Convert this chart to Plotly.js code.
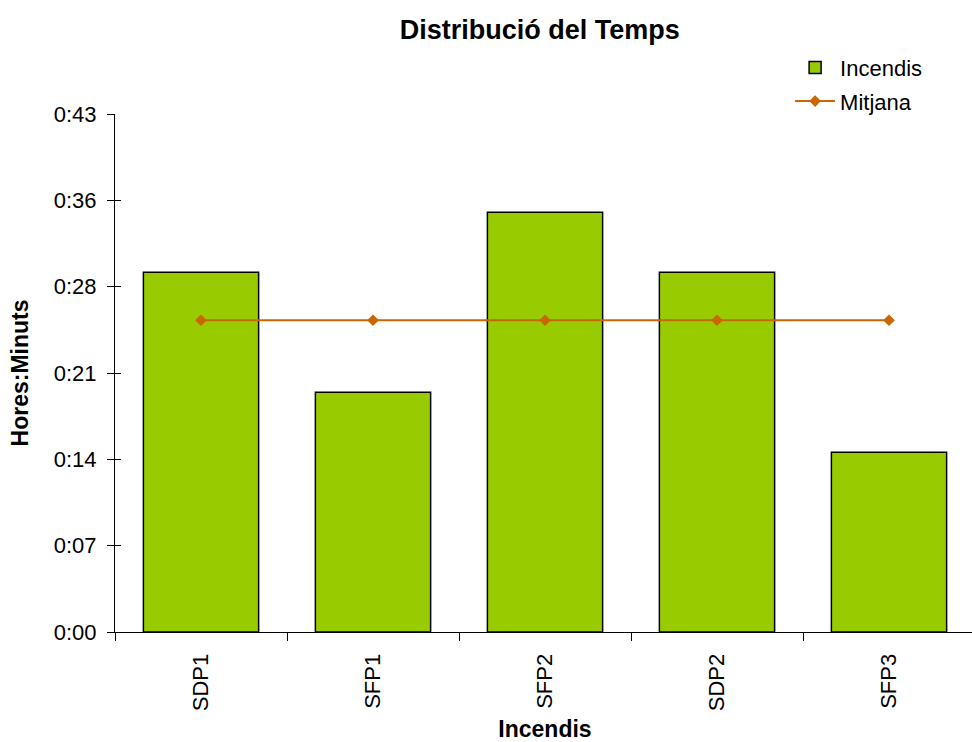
<!DOCTYPE html>
<html><head><meta charset="utf-8">
<script src="https://cdn.plot.ly/plotly-3.0.1.min.js"></script>
<style>html,body{margin:0;padding:0;overflow:hidden;background:#fff}#c{width:980px;height:742px}</style>
</head><body><div id="c"></div>
<script>
const categories = ["SDP1", "SFP1", "SFP2", "SDP2", "SFP3"];
const incendisMinutes = [30, 20, 35, 30, 15];
const mitjanaMinutes = [26, 26, 26, 26, 26];
const yTickValues = [0, 7.2, 14.4, 21.6, 28.8, 36, 43.2];
const yTickLabels = ["0:00", "0:07", "0:14", "0:21", "0:28", "0:36", "0:43"];

const font = "Liberation Sans, Arial, sans-serif";
const traces = [
  {type: "bar", name: "Incendis", x: categories, y: incendisMinutes, legendgroup: "a",
   marker: {color: "#99CC00", line: {color: "#000000", width: 1.5}},
   hoverinfo: "skip"},
  {type: "scatter", mode: "lines+markers", name: "Mitjana", x: categories, y: mitjanaMinutes,
   legendgroup: "b",
   line: {color: "#CC6600", width: 2}, marker: {symbol: "diamond", size: 9, color: "#CC6600"},
   hoverinfo: "skip"}
];
const layout = {
  width: 980, height: 742,
  margin: {l: 115, r: 5, t: 114, b: 110},
  paper_bgcolor: "#fff", plot_bgcolor: "#fff",
  font: {family: font, size: 22, color: "#000"},
  title: {text: "<b>Distribució del Temps</b>", font: {family: font, size: 27, color: "#000"},
          x: 0.494, xanchor: "center", y: 0.96, yanchor: "middle", xref: "paper"},
  bargap: 0.33,
  showlegend: true,
  legend: {x: 0.785, xanchor: "left", y: 1.13, yanchor: "top", bgcolor: "rgba(0,0,0,0)",
           font: {family: font, size: 22, color: "#000"}, tracegroupgap: 2, itemwidth: 40},
  xaxis: {type: "category", tickson: "boundaries", ticks: "outside", ticklen: 8, tickcolor: "#000",
          tickangle: -90, showline: true, linecolor: "#000", linewidth: 1, showgrid: false,
          zeroline: false, ticklabelstandoff: 12, tickfont: {family: font, size: 22, color: "#000"},
          title: {text: "<b>Incendis</b>", font: {family: font, size: 23, color: "#000"}, standoff: 14}},
  yaxis: {range: [0, 43.2], tickmode: "array", tickvals: yTickValues, ticktext: yTickLabels,
          ticks: "outside", ticklen: 7, tickcolor: "#000", showline: true, linecolor: "#000",
          linewidth: 1, showgrid: false, zeroline: false, ticklabelstandoff: 6,
          tickfont: {family: font, size: 22, color: "#000"},
          title: {text: "<b>Hores:Minuts</b>", font: {family: font, size: 23, color: "#000"}, standoff: 18}},
  yaxis2: {range: [0, 43.2], overlaying: "y", tickmode: "array", tickvals: yTickValues,
           ticks: "inside", ticklen: 6, tickcolor: "#000", showticklabels: false,
           showline: false, showgrid: false, zeroline: false, side: "left"}
};
traces.push({type: "scatter", x: [categories[0]], y: [0], yaxis: "y2", mode: "markers",
             marker: {opacity: 0}, showlegend: false, hoverinfo: "skip"});
Plotly.newPlot("c", traces, layout, {displayModeBar: false, staticPlot: true});
</script></body></html>
